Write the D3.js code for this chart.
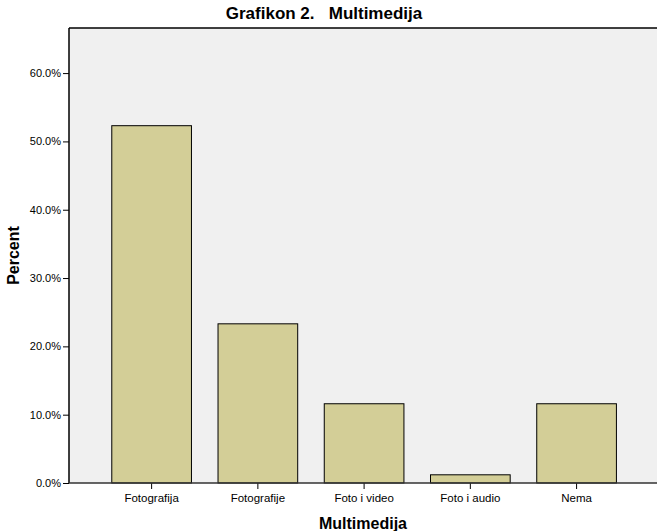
<!DOCTYPE html>
<html>
<head>
<meta charset="utf-8">
<script src="https://cdn.jsdelivr.net/npm/d3@7"></script>
<style>
  body { margin: 0; background: #fff; }
  text { font-family: "Liberation Sans", Arial, sans-serif; }
</style>
</head>
<body>
<script>
// values
var categories = ["Fotografija", "Fotografije", "Foto i video", "Foto i audio", "Nema"];
var percents = [52.3, 23.3, 11.6, 1.2, 11.6];
var yTicks = [0, 10, 20, 30, 40, 50, 60];

var W = 657, H = 531;
var margin = { top: 28, right: 0, bottom: 48, left: 69 };

var svg = d3.select("body").append("svg")
    .attr("width", W)
    .attr("height", H);

var x = d3.scaleBand()
    .domain(categories)
    .range([98.5, 629.7])
    .paddingInner(0.25)
    .paddingOuter(0.125);

var y = d3.scaleLinear()
    .domain([0, 66.6])
    .range([H - margin.bottom, margin.top]);

// plot background
svg.append("rect")
    .attr("x", margin.left)
    .attr("y", margin.top)
    .attr("width", W - margin.left)
    .attr("height", y(0) - margin.top)
    .attr("fill", "#f0f0f0");

// top border
svg.append("line")
    .attr("x1", margin.left).attr("x2", W)
    .attr("y1", margin.top).attr("y2", margin.top)
    .attr("stroke", "#000").attr("stroke-width", 1.5);

// bars
svg.append("g").selectAll("rect")
    .data(percents)
    .enter().append("rect")
    .attr("x", (d, i) => x(categories[i]))
    .attr("y", d => y(d))
    .attr("width", x.bandwidth())
    .attr("height", d => y(0) - y(d))
    .attr("fill", "#d3ce97")
    .attr("stroke", "#000")
    .attr("stroke-width", 1);

// y axis
var yAxis = svg.append("g")
    .attr("transform", "translate(" + margin.left + ",0)")
    .call(d3.axisLeft(y).tickValues(yTicks).tickSize(6).tickPadding(2)
        .tickFormat(d => d.toFixed(1) + "%"));
yAxis.select(".domain").remove();
yAxis.selectAll("text").attr("font-size", "11px").attr("fill", "#000")
    .attr("font-family", "'Liberation Sans', Arial, sans-serif");
yAxis.selectAll("line").attr("stroke", "#000");
svg.append("line")
    .attr("x1", margin.left).attr("x2", margin.left)
    .attr("y1", margin.top).attr("y2", y(0))
    .attr("stroke", "#000").attr("stroke-width", 1.5);

// x axis
var xAxis = svg.append("g")
    .attr("transform", "translate(0," + y(0) + ")")
    .call(d3.axisBottom(x).tickSize(6).tickPadding(5));
xAxis.select(".domain").remove();
xAxis.selectAll("text").attr("font-size", "11.5px").attr("fill", "#000")
    .attr("font-family", "'Liberation Sans', Arial, sans-serif");
xAxis.selectAll("line").attr("stroke", "#000");
svg.append("line")
    .attr("x1", margin.left).attr("x2", W)
    .attr("y1", y(0)).attr("y2", y(0))
    .attr("stroke", "#333").attr("stroke-width", 1.5);

// titles
svg.append("text")
    .attr("x", 324).attr("y", 19)
    .attr("text-anchor", "middle")
    .attr("font-size", "17px").attr("font-weight", "bold")
    .attr("xml:space", "preserve")
    .style("white-space", "pre")
    .text("Grafikon 2.   Multimedija");

svg.append("text")
    .attr("x", (margin.left + W) / 2).attr("y", 529)
    .attr("text-anchor", "middle")
    .attr("font-size", "16px").attr("font-weight", "bold")
    .text("Multimedija");

svg.append("text")
    .attr("transform", "translate(19," + ((margin.top + y(0)) / 2) + ") rotate(-90)")
    .attr("text-anchor", "middle")
    .attr("font-size", "16px").attr("font-weight", "bold")
    .text("Percent");
</script>
</body>
</html>
